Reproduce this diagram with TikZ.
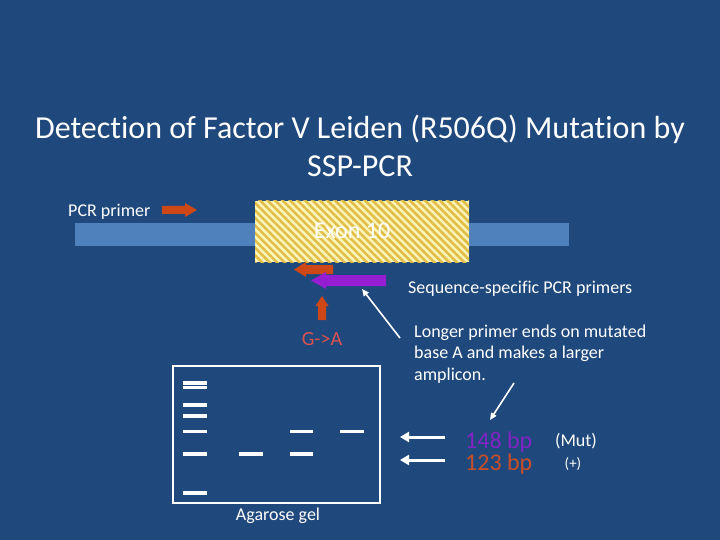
\documentclass[tikz,border=0pt]{standalone}
\usepackage{fontspec}
\setmainfont{Carlito}[Ligatures=NoCommon]
\usetikzlibrary{arrows.meta,patterns.meta}
\definecolor{bg}{RGB}{31,73,125}
\definecolor{bar}{RGB}{79,129,189}
\definecolor{stripe}{RGB}{224,190,72}
\definecolor{stripebg}{RGB}{252,244,185}
\definecolor{redarr}{RGB}{205,72,22}
\definecolor{purarr}{RGB}{150,30,210}
\definecolor{gatext}{RGB}{222,82,78}
\definecolor{bpa}{RGB}{130,35,195}
\definecolor{bpb}{RGB}{200,78,40}
\tikzset{
  txt/.style={text=white, inner sep=0pt, anchor=base},
  band/.style={fill=white, draw=none},
  wline/.style={draw=white, line width=1.6pt, -{Triangle[length=7pt,width=6pt]}},
  warrow/.style={draw=white, line width=3pt, -{Triangle[length=9pt,width=10pt]}},
}
\begin{document}
\begin{tikzpicture}[x=1pt,y=-1pt]
\useasboundingbox (0,0) rectangle (720,540);
\fill[bg] (0,0) rectangle (720,540);
% title
\node[txt, font=\fontsize{32}{38}\selectfont] (t1) at (360,139) {Detection of Factor V Leiden (R506Q) Mutation by};
\node[txt, font=\fontsize{32}{38}\selectfont] (t2) at (360,177) {SSP-PCR};
% gene
\fill[bar] (75,223) rectangle (569,246);
\fill[stripebg] (255,201) rectangle (469,262);
\fill[pattern={Lines[angle=-45,distance=5.3pt,line width=2.6pt]}, pattern color=stripe] (255,201) rectangle (469,262);
\node[txt, font=\fontsize{24}{28}\selectfont] (exon) at (352,239) {Exon 10};
% PCR primer
\node[txt, anchor=base west, font=\fontsize{18}{22}\selectfont] (pcr) at (68,216) {PCR primer};
\fill[redarr] (162,206) -- (185,206) -- (185,203) -- (197,210) -- (185,217) -- (185,214) -- (162,214) -- cycle;
% reverse primers
\fill[redarr] (333,265) -- (306,265) -- (306,262) -- (294,269.5) -- (306,277) -- (306,274) -- (333,274) -- cycle;
\fill[purarr] (386,275) -- (326,275) -- (326,272) -- (311,280.5) -- (326,289) -- (326,286) -- (386,286) -- cycle;
% mutation arrow
\fill[redarr] (318,320) -- (318,306) -- (315.5,306) -- (322,296) -- (328.5,306) -- (326,306) -- (326,320) -- cycle;
\node[txt, text=gatext, font=\fontsize{20}{24}\selectfont] (ga) at (322,345) {G->A};
% labels
\node[txt, anchor=base west, font=\fontsize{18}{22}\selectfont] (ssp) at (408,293) {Sequence-specific PCR primers};
\coordinate (sspa) at (400,338);
\coordinate (sspb) at (362,289);
\draw[wline] (sspa) -- (sspb);
\node[txt, anchor=base west, font=\fontsize{18}{22}\selectfont] (l1) at (414,337) {Longer primer ends on mutated};
\node[txt, anchor=base west, font=\fontsize{18}{22}\selectfont] (l2) at (414,358) {base A and makes a larger};
\node[txt, anchor=base west, font=\fontsize{18}{22}\selectfont] (l3) at (414,380) {amplicon.};
\coordinate (la) at (514,383);
\coordinate (lb) at (490,420);
\draw[wline] (la) -- (lb);
% gel
\draw[white, line width=1.2pt] (173,366) rectangle (380,503);
\foreach \ya/\yb in {381/385,386/389,403/407,414/418,430/433,452/456,491/495}
  \fill[band] (183,\ya) rectangle (207,\yb);
\fill[band] (239,452) rectangle (263,456);
\fill[band] (290,430) rectangle (313,433);
\fill[band] (290,452) rectangle (313,456);
\fill[band] (340,430) rectangle (364,433);
\node[txt, font=\fontsize{18}{22}\selectfont] (gel) at (278,520) {Agarose gel};
% size pointers
\coordinate (a1) at (445,437);
\coordinate (a2) at (400,437);
\coordinate (b1) at (445,460);
\coordinate (b2) at (400,460);
\draw[warrow] (a1) -- (a2);
\draw[warrow] (b1) -- (b2);
\node[txt, anchor=base west, text=bpa, font=\fontsize{24}{28}\selectfont] (bp1) at (465,448) {148 bp};
\node[txt, anchor=base west, text=bpb, font=\fontsize{24}{28}\selectfont] (bp2) at (465,470) {123 bp};
\node[txt, font=\fontsize{18}{22}\selectfont] (mut) at (576,446) {(Mut)};
\node[txt, font=\fontsize{15}{18}\selectfont] (wt) at (573,468) {(+)};
\end{tikzpicture}
\end{document}
